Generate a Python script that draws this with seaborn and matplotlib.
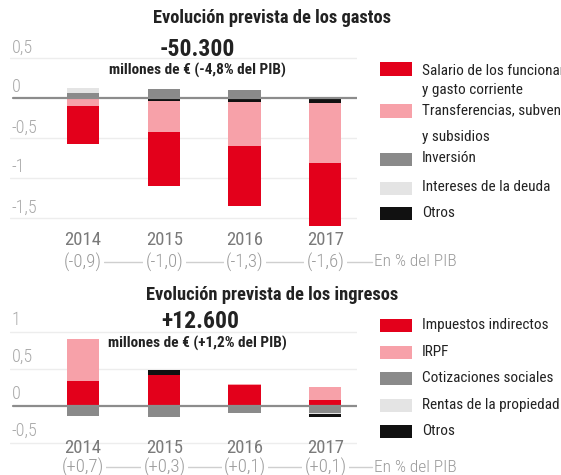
import numpy as np
import pandas as pd
import matplotlib
matplotlib.use("Agg")
import matplotlib.pyplot as plt
import matplotlib.transforms as mtransforms
from matplotlib.patches import Rectangle
from matplotlib.lines import Line2D
import seaborn as sns

# ---------------- data ----------------
years = ["2014", "2015", "2016", "2017"]

# Gastos (% del PIB)
g_salario = [-0.48, -0.68, -0.75, -0.79]
g_transferencias = [-0.10, -0.39, -0.56, -0.75]
g_inversion = [0.06, 0.11, 0.09, 0.0]
g_intereses = [0.06, 0.0, 0.0, 0.0]
g_otros = [0.0, -0.04, -0.05, -0.07]
g_totals = ["(-0,9)", "(-1,0)", "(-1,3)", "(-1,6)"]

# Ingresos (% del PIB)
i_indirectos = [0.34, 0.42, 0.28, 0.08]
i_irpf = [0.56, 0.0, 0.02, 0.18]
i_cotizaciones = [-0.13, -0.15, -0.10, -0.09]
i_rentas = [0.0, 0.0, 0.0, -0.02]
i_otros = [0.0, 0.07, 0.0, -0.04]
i_totals = ["(+0,7)", "(+0,3)", "(+0,1)", "(+0,1)"]

g_ticks = [0.5, 0, -0.5, -1, -1.5]
g_ticklabels = ["0,5", "0", "-0,5", "-1", "-1,5"]
i_ticks = [1, 0.5, 0, -0.5]
i_ticklabels = ["1", "0,5", "0", "-0,5"]

g_legend = [("Salario de los funcionarios", "y gasto corriente"),
            ("Transferencias, subvenciones", "y subsidios"),
            ("Inversión", None), ("Intereses de la deuda", None), ("Otros", None)]
i_legend = ["Impuestos indirectos", "IRPF", "Cotizaciones sociales",
            "Rentas de la propiedad", "Otros"]

# ---------------- style ----------------
sns.set_theme(style="white")
FONT = ["Roboto Condensed", "Liberation Sans Narrow", "DejaVu Sans"]
plt.rcParams["font.family"] = FONT

RED = "#E3001B"
PINK = "#F7A1A9"
GRAY = "#8A8A8A"
LGRAY = "#E4E4E4"
BLACK = "#111111"

W, H = 561, 475
fig = plt.figure(figsize=(W / 100, H / 100), dpi=100)
fig.patch.set_facecolor("white")


def px_rect(left, top, right, bottom):
    return [left / W, 1 - bottom / H, (right - left) / W, (bottom - top) / H]


def stacked(ax, series, colors):
    pos_cum = np.zeros(len(years))
    neg_cum = np.zeros(len(years))
    layers = []
    for vals, col in zip(series, colors):
        v = np.asarray(vals, dtype=float)
        pos_cum = pos_cum + np.where(v > 0, v, 0)
        neg_cum = neg_cum + np.where(v < 0, v, 0)
        layers.append((pos_cum.copy(), neg_cum.copy(), col))
    for pc, nc, col in reversed(layers):
        for arr in (pc, nc):
            df = pd.DataFrame({"year": years, "v": arr})
            sns.barplot(data=df, x="year", y="v", color=col, width=0.4,
                        saturation=1, linewidth=0, ax=ax, zorder=3)


def style_axes(ax, ylim, ticks, ticklabels, label_off):
    ax.set_xlim(-0.905, 3.395)
    ax.set_ylim(*ylim)
    for s in ax.spines.values():
        s.set_visible(False)
    ax.set_xticks([])
    ax.set_yticks([])
    ax.set_xlabel("")
    ax.set_ylabel("")
    ax.set_facecolor("none")
    for t, lab in zip(ticks, ticklabels):
        if t == 0:
            ax.axhline(0, color="#8C8C8C", lw=1.6, zorder=4, xmin=0.01, xmax=1.0)
        else:
            ax.axhline(t, color="#EDEDED", lw=1.0, zorder=1)
        tr = mtransforms.offset_copy(ax.get_yaxis_transform(), fig=fig,
                                     x=0, y=label_off, units="dots")
        ax.text(0.005, t, lab, transform=tr, ha="left", va="center",
                fontsize=13, color="#A8A8A8", fontweight="light")


def year_labels(y_year, y_tot, totals):
    xs = [83, 164.5, 245, 325.5]
    for x, yr, tot in zip(xs, years, totals):
        fig.text(x / W, 1 - y_year / H, yr, ha="center", va="center",
                 fontsize=13.5, color="#7A7A7A")
        fig.text(x / W, 1 - y_tot / H, tot, ha="center", va="center",
                 fontsize=13.5, color="#9A9A9A", fontweight="light",
                 bbox=dict(boxstyle="square,pad=0.12", fc="white", ec="none"))
    fig.add_artist(Line2D([104 / W, 372 / W], [1 - y_tot / H] * 2,
                          color="#CFCFCF", lw=1.0, zorder=0))
    fig.text(374 / W, 1 - y_tot / H, "En % del PIB", ha="left", va="center",
             fontsize=12.5, color="#9A9A9A", fontweight="light")


LEG_FS = 11

# ---------------- top: gastos ----------------
ax1 = fig.add_axes(px_rect(10, 37.5, 357, 229.5))
stacked(ax1, [g_otros, g_inversion, g_transferencias, g_intereses, g_salario],
        [BLACK, GRAY, PINK, LGRAY, RED])
style_axes(ax1, (-1.65, 0.75), g_ticks, g_ticklabels, 10)

fig.text(272 / W, 1 - 18 / H, "Evolución prevista de los gastos", ha="center",
         va="center", fontsize=13.3, fontweight="bold", color="#222222")
fig.text(197 / W, 1 - 50 / H, "-50.300", ha="center", va="center",
         fontsize=17, fontweight="bold", color="#222222")
fig.text(197 / W, 1 - 70 / H, "millones de € (-4,8% del PIB)", ha="center",
         va="center", fontsize=11, fontweight="bold", color="#222222")
year_labels(240, 262, g_totals)

# legend top
g_cols = [RED, PINK, GRAY, LGRAY, BLACK]
g_patch_y = [69, 111, 159, 188, 214]
g_text_y = [(71, 90), (110, 137), (158, None), (187, None), (213, None)]
for col, py, (l1, l2), (ty1, ty2) in zip(g_cols, g_patch_y, g_legend, g_text_y):
    fig.add_artist(Rectangle((380 / W, 1 - (py + 6.5) / H), 32 / W, 13 / H,
                             transform=fig.transFigure, fc=col, ec="none"))
    fig.text(422 / W, 1 - ty1 / H, l1, ha="left", va="center", fontsize=LEG_FS,
             color="#222222")
    if l2:
        fig.text(422 / W, 1 - ty2 / H, l2, ha="left", va="center",
                 fontsize=LEG_FS, color="#222222")

# ---------------- bottom: ingresos ----------------
ax2 = fig.add_axes(px_rect(10, 324.6, 357, 446.7))
stacked(ax2, [i_indirectos, i_cotizaciones, i_irpf, i_rentas, i_otros],
        [RED, GRAY, PINK, LGRAY, BLACK])
style_axes(ax2, (-0.55, 1.1), i_ticks, i_ticklabels, 12)

fig.text(272 / W, 1 - 295 / H, "Evolución prevista de los ingresos",
         ha="center", va="center", fontsize=13.3, fontweight="bold",
         color="#222222")
fig.text(200 / W, 1 - 322 / H, "+12.600", ha="center", va="center",
         fontsize=17, fontweight="bold", color="#222222")
fig.text(197 / W, 1 - 343 / H, "millones de € (+1,2% del PIB)", ha="center",
         va="center", fontsize=11, fontweight="bold", color="#222222")
year_labels(448, 467, i_totals)

i_cols = [RED, PINK, GRAY, LGRAY, BLACK]
i_y = [325, 352, 378, 405, 431]
for col, py, lab in zip(i_cols, i_y, i_legend):
    fig.add_artist(Rectangle((380 / W, 1 - (py + 6.5) / H), 32 / W, 13 / H,
                             transform=fig.transFigure, fc=col, ec="none"))
    fig.text(422 / W, 1 - py / H, lab, ha="left", va="center", fontsize=LEG_FS,
             color="#222222")

fig.savefig("out.png", dpi=100, facecolor="white")
